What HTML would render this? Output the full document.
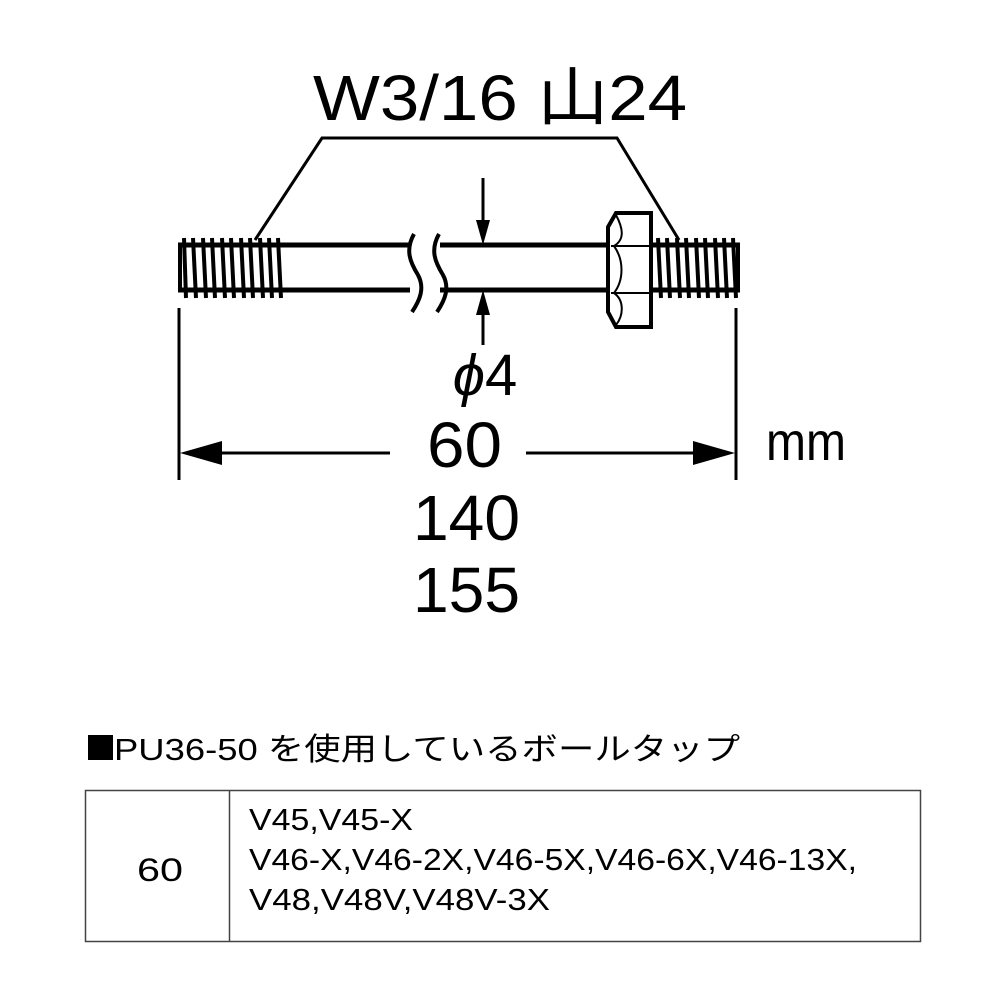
<!DOCTYPE html>
<html><head><meta charset="utf-8"><style>
body{margin:0;background:#fff}
svg{display:block}
text{font-family:"Liberation Sans","Noto Sans CJK JP",sans-serif;fill:#000}
</style></head><body>
<svg width="1000" height="1000" viewBox="0 0 1000 1000">
<g stroke="#000" fill="none">
<line x1="178" y1="245" x2="410" y2="245" stroke-width="5"/>
<line x1="178" y1="290" x2="410" y2="290" stroke-width="5"/>
<line x1="440" y1="245" x2="740" y2="245" stroke-width="5"/>
<line x1="440" y1="290" x2="740" y2="290" stroke-width="5"/>
<line x1="180" y1="243" x2="180" y2="292" stroke-width="4"/>
<line x1="738" y1="243" x2="738" y2="292" stroke-width="4"/>
<path d="M414,234 C405,250 410,262 418,275 C425,288 420,300 412,312" stroke-width="4"/>
<path d="M439,234 C430,250 435,262 443,275 C450,288 445,300 437,312" stroke-width="4"/>
<g stroke-width="4">
<line x1="184" y1="238" x2="186" y2="298"/><line x1="193" y1="238" x2="196" y2="298"/>
<line x1="203" y1="238" x2="206" y2="298"/><line x1="212" y1="238" x2="215" y2="298"/>
<line x1="222" y1="238" x2="225" y2="298"/><line x1="231" y1="238" x2="234" y2="298"/>
<line x1="241" y1="238" x2="244" y2="298"/><line x1="250" y1="238" x2="253" y2="298"/>
<line x1="260" y1="238" x2="263" y2="298"/><line x1="269" y1="238" x2="272" y2="298"/>
<line x1="278" y1="238" x2="281" y2="298"/>
<line x1="658" y1="238" x2="661" y2="298"/><line x1="667" y1="238" x2="670" y2="298"/>
<line x1="677" y1="238" x2="680" y2="298"/><line x1="686" y1="238" x2="689" y2="298"/>
<line x1="696" y1="238" x2="699" y2="298"/><line x1="705" y1="238" x2="708" y2="298"/>
<line x1="715" y1="238" x2="718" y2="298"/><line x1="724" y1="238" x2="727" y2="298"/>
<line x1="733" y1="238" x2="736" y2="298"/>
</g>
<path d="M616,213 L651,213 L651,327 L616,327 L608,312 L608,227 Z" fill="#fff" stroke-width="4"/>
<line x1="611" y1="246" x2="651" y2="246" stroke-width="2"/>
<line x1="611" y1="293" x2="651" y2="293" stroke-width="2"/>
<path d="M616,215 C624,230 624,240 614,246 C624,260 624,280 614,293 C624,300 624,315 616,325" stroke-width="2"/>
<polyline points="255,240 322,138 617,138 679,240" stroke-width="3"/>
<line x1="483" y1="178" x2="483" y2="225" stroke-width="3"/>
<polygon points="476,220 490,220 483,245" fill="#000" stroke="none"/>
<line x1="483" y1="310" x2="483" y2="345" stroke-width="3"/>
<polygon points="476,315 490,315 483,290" fill="#000" stroke="none"/>
<line x1="179" y1="308" x2="179" y2="480" stroke-width="3"/>
<line x1="736" y1="308" x2="736" y2="480" stroke-width="3"/>
<line x1="195" y1="453" x2="390" y2="453" stroke-width="3"/>
<polygon points="180,453 222,441 222,465" fill="#000" stroke="none"/>
<line x1="526" y1="453" x2="720" y2="453" stroke-width="3"/>
<polygon points="735,453 693,441 693,465" fill="#000" stroke="none"/>
<rect x="85.5" y="790.5" width="835" height="151" stroke="#444" stroke-width="1.5"/>
<line x1="229.5" y1="790" x2="229.5" y2="942" stroke="#444" stroke-width="1.5"/>
</g>
<text x="313" y="120" font-size="64" textLength="374" lengthAdjust="spacingAndGlyphs">W3/16 山24</text>
<text x="485" y="395" font-size="58" text-anchor="middle" font-style="italic">ϕ<tspan font-style="normal">4</tspan></text>
<text x="427" y="467" font-size="64" textLength="75" lengthAdjust="spacingAndGlyphs">60</text>
<text x="413" y="540" font-size="64" textLength="107" lengthAdjust="spacingAndGlyphs">140</text>
<text x="413" y="612" font-size="64" textLength="107" lengthAdjust="spacingAndGlyphs">155</text>
<text x="766" y="460" font-size="54" textLength="80" lengthAdjust="spacingAndGlyphs">mm</text>
<rect x="88" y="735" width="25" height="25" fill="#000"/>
<text x="114" y="760" font-size="31" textLength="626" lengthAdjust="spacingAndGlyphs">PU36-50 を使用しているボールタップ</text>
<text x="137" y="881" font-size="32" textLength="46" lengthAdjust="spacingAndGlyphs">60</text>
<text x="249" y="830" font-size="31" textLength="164" lengthAdjust="spacingAndGlyphs">V45,V45-X</text>
<text x="249" y="870" font-size="31" textLength="608" lengthAdjust="spacingAndGlyphs">V46-X,V46-2X,V46-5X,V46-6X,V46-13X,</text>
<text x="249" y="910" font-size="31" textLength="301" lengthAdjust="spacingAndGlyphs">V48,V48V,V48V-3X</text>
</svg>
</body></html>
